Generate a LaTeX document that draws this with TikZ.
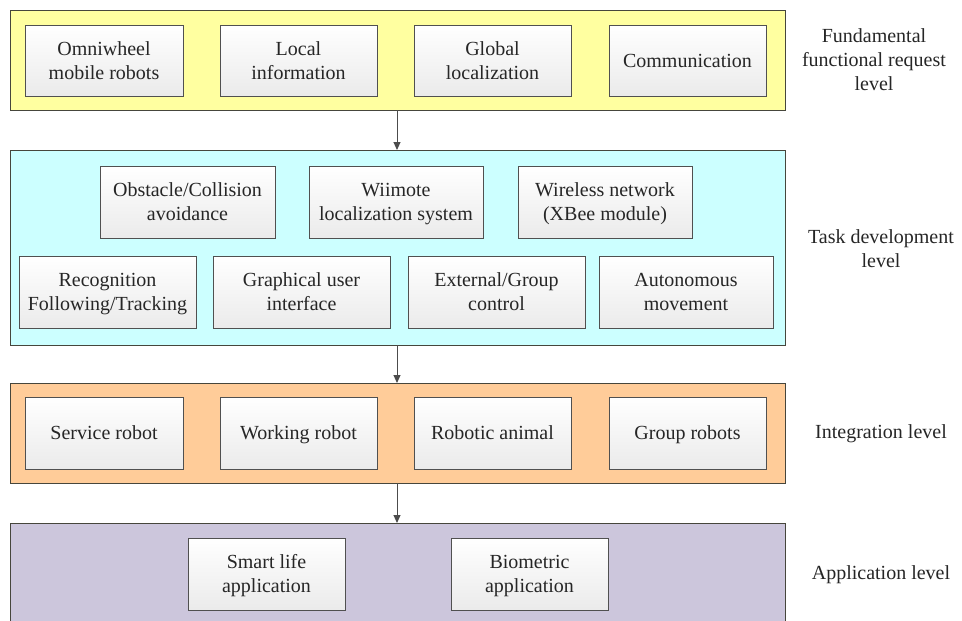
\documentclass[tikz,border=0pt]{standalone}
\usepackage{fontspec}
\setmainfont{Liberation Serif}
\usetikzlibrary{arrows.meta,shadows}
\definecolor{pyellow}{RGB}{255,255,160}
\definecolor{pcyan}{RGB}{204,255,255}
\definecolor{porange}{RGB}{255,204,153}
\definecolor{ppurple}{RGB}{204,198,220}
\definecolor{edge}{RGB}{70,70,60}
\definecolor{bedge}{RGB}{80,80,80}
\begin{document}
\begin{tikzpicture}[x=1pt,y=-1pt,
  panel/.style={draw=edge,line width=1pt},
  box/.style={draw=bedge,line width=1pt,top color=white,bottom color=gray!16,
    drop shadow={shadow xshift=1.2pt,shadow yshift=-1.2pt,opacity=0.25}},
  btxt/.style={align=center,font=\rmfamily\fontsize{20}{24}\selectfont,text=black!85,inner sep=0pt,yshift=-2pt},
  lvl/.style={align=center,font=\rmfamily\fontsize{20}{24}\selectfont,text=black!85},
  arr/.style={-{Triangle[length=8pt,width=7pt]},draw=black!70,line width=1pt}]
\useasboundingbox (0,0) rectangle (962,621);
\fill[white] (0,0) rectangle (962,621);
% panels
\path[panel,fill=pyellow] (10,10) rectangle (785,110);
\node[coordinate] (p1b) at (397,110) {};
\path[panel,fill=pcyan] (10,150) rectangle (785,345);
\node[coordinate] (p2t) at (397,150) {};
\node[coordinate] (p2b) at (397,345) {};
\path[panel,fill=porange] (10,383) rectangle (785,483);
\node[coordinate] (p3t) at (397,383) {};
\node[coordinate] (p3b) at (397,483) {};
\path[panel,fill=ppurple] (10,523) rectangle (785,630);
\node[coordinate] (p4t) at (397,523) {};
% helper macro for boxes
\newcommand{\bx}[6]{\path[box] (#2,#3) rectangle (#4,#5);
  \node[btxt] (#1) at ({(#2+#4)/2},{(#3+#5)/2}) {#6};}
% level 1
\bx{a1}{25}{25}{183}{96}{\strut Omniwheel\\mobile robots\strut}
\bx{a2}{220}{25}{377}{96}{\strut Local\\information\strut}
\bx{a3}{414}{25}{571}{96}{\strut Global\\localization\strut}
\bx{a4}{609}{25}{766}{96}{\strut Communication}
% level 2
\bx{b1}{100}{166}{275}{238}{\strut Obstacle/Collision\\avoidance\strut}
\bx{b2}{309}{166}{483}{238}{\strut Wiimote\\localization system\strut}
\bx{b3}{518}{166}{692}{238}{\strut Wireless network\\(XBee module)\strut}
\bx{b4}{19}{256}{196}{328}{\strut Recognition\\Following/Tracking\strut}
\bx{b5}{213}{256}{390}{328}{\strut Graphical user\\interface\strut}
\bx{b6}{408}{256}{585}{328}{\strut External/Group\\control\strut}
\bx{b7}{599}{256}{773}{328}{\strut Autonomous\\movement\strut}
% level 3
\bx{c1}{25}{397}{183}{469}{\strut Service robot}
\bx{c2}{220}{397}{377}{469}{\strut Working robot}
\bx{c3}{414}{397}{571}{469}{\strut Robotic animal}
\bx{c4}{609}{397}{766}{469}{\strut Group robots}
% level 4
\bx{d1}{188}{538}{345}{610}{\strut Smart life\\application\strut}
\bx{d2}{451}{538}{608}{610}{\strut Biometric\\application\strut}
% arrows
\draw[arr] (p1b) -- (p2t);
\draw[arr] (p2b) -- (p3t);
\draw[arr] (p3b) -- (p4t);
% level labels
\node[lvl] (l1) at (874,60) {Fundamental\\functional request\\level};
\node[lvl] (l2) at (881,249) {Task development\\level};
\node[lvl] (l3) at (881,434) {Integration level};
\node[lvl] (l4) at (881,575) {Application level};
\end{tikzpicture}
\end{document}
